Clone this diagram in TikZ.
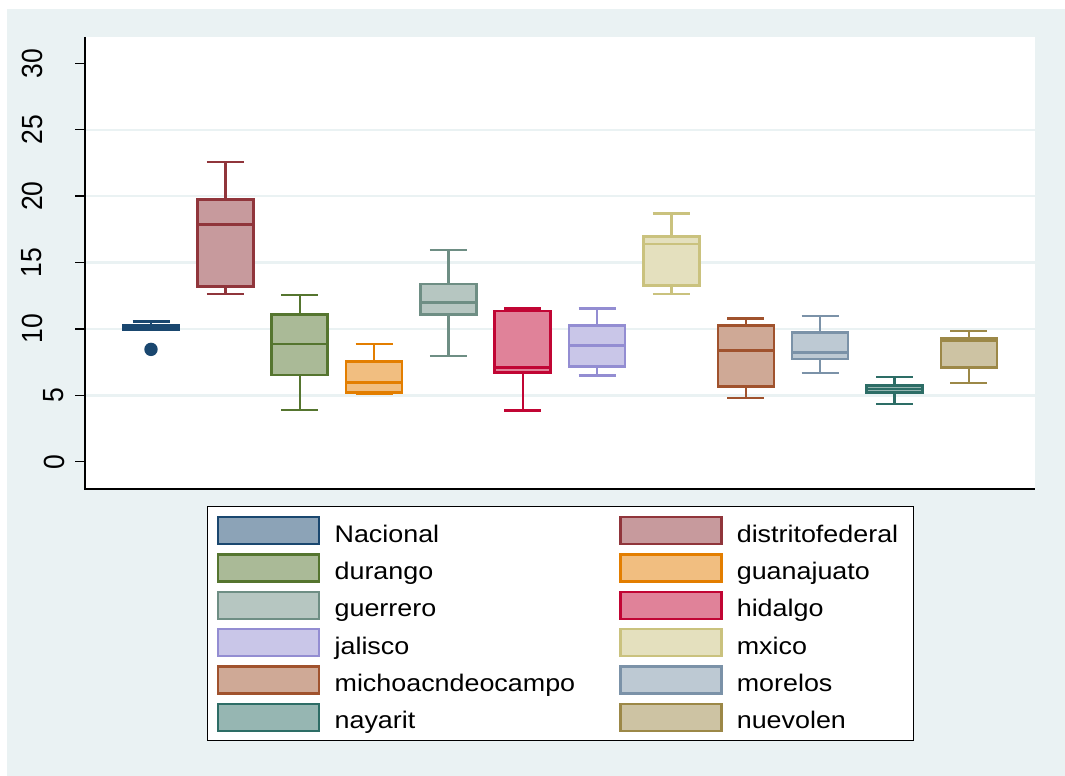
\documentclass[tikz,border=0pt]{standalone}
\usepackage{fontspec}
\setmainfont{Liberation Sans}
\usetikzlibrary{positioning}

\definecolor{bgblue}{RGB}{234,242,243}
\definecolor{navy}{RGB}{26,71,111}
\definecolor{maroon}{RGB}{144,53,59}
\definecolor{forest}{RGB}{85,117,47}
\definecolor{dkorange}{RGB}{227,126,0}
\definecolor{teal}{RGB}{110,142,132}
\definecolor{cranberry}{RGB}{193,5,52}
\definecolor{lavender}{RGB}{147,141,210}
\definecolor{khaki}{RGB}{202,194,126}
\definecolor{sienna}{RGB}{160,82,45}
\definecolor{emidblue}{RGB}{123,146,168}
\definecolor{emerald}{RGB}{45,109,102}
\definecolor{brown}{RGB}{156,136,71}

\tikzset{
    every node/.style={font=\fontsize{24}{28}\selectfont},
    box line/.style={line width=2.6pt},
    whisk line/.style={line width=2.4pt},
    grid line/.style={bgblue, line width=2.4pt},
    axis line/.style={black, line width=1.4pt},
    key box/.style={line width=2.4pt, minimum width=101pt, minimum height=27pt, inner sep=0pt},
    tick label/.style={font=\fontsize{26.5}{30}\selectfont, xscale=1.1, rotate=90, inner sep=0pt},
    leg label/.style={xscale=1.12, inner sep=0pt, text height=24pt, text depth=0.8pt}
}

\begin{document}
\begin{tikzpicture}[x=1pt, y=-1pt]
  \useasboundingbox (0,0) rectangle (1065,776);
  % background and plot region
  \fill[bgblue] (7,9) rectangle (1065,776);
  \fill[white] (85,37) rectangle (1035,489);

  % data scope: x in pt, y in data units
  \begin{scope}[shift={(0,461.7)}, y=13.28pt]
    \foreach \v in {5,10,...,25}
      \draw[grid line] (85,\v) -- (1035,\v);
    \foreach \v in {0,5,...,30} {
      \pgfmathsetmacro\lx{\v<10 ? 54 : 32}
      \draw[axis line] (75,\v) -- (85,\v);
      \node[tick label] (t\v) at (\lx,\v) {\v};
    }

    \foreach \lw/\qa/\md/\qc/\uw/\col [count=\i from 0] in {
        9.95/9.95/10.1/10.25/10.57/navy,
        12.65/13.18/17.88/19.76/22.55/maroon,
        3.89/6.53/8.86/11.07/12.55/forest,
        5.10/5.23/5.95/7.53/8.86/dkorange,
        7.98/11.10/11.97/13.38/15.92/teal,
        3.87/6.73/7.08/11.35/11.55/cranberry,
        6.48/7.18/8.73/10.24/11.55/lavender,
        12.63/13.25/16.39/16.94/18.70/khaki,
        4.80/5.68/8.36/10.24/10.77/sienna,
        6.68/7.73/8.24/9.74/10.97/emidblue,
        4.35/5.20/5.47/5.72/6.38/emerald,
        5.93/7.08/9.14/9.29/9.86/brown} {
      \pgfmathsetmacro\x{151+74.35*\i}
      \draw[whisk line, \col] (\x,\qc) -- (\x,\uw) (\x-18.5,\uw) -- (\x+18.5,\uw);
      \draw[whisk line, \col] (\x,\qa) -- (\x,\lw) (\x-18.5,\lw) -- (\x+18.5,\lw);
      \draw[box line, draw=\col, fill=\col!50] (\x-28,\qa) rectangle (\x+28,\qc);
      \draw[box line, \col] (\x-28,\md) -- (\x+28,\md);
    }
    % outlier
    \fill[navy] (151,8.46) circle (6.7pt);
  \end{scope}

  % axes
  \draw[axis line] (85,37) -- (85,489) -- (1035,489);

  % legend
  \draw[black, line width=1pt, fill=white] (207.3,506.7) rectangle (913.3,740.7);
  \foreach \lab/\col [count=\n from 0] in {Nacional/navy, distritofederal/maroon,
      durango/forest, guanajuato/dkorange, guerrero/teal, hidalgo/cranberry,
      jalisco/lavender, mxico/khaki, michoacndeocampo/sienna, morelos/emidblue,
      nayarit/emerald, nuevolen/brown} {
    \pgfmathsetmacro\kx{mod(\n,2)==0 ? 268.7 : 670.9}
    \pgfmathsetmacro\ky{530.7+37.3*floor(\n/2)}
    \node[key box, draw=\col, fill=\col!50] (key\n) at (\kx,\ky) {};
    \node[leg label, right=14pt of key\n] (lab\n) {\lab};
  }
\end{tikzpicture}
\end{document}
